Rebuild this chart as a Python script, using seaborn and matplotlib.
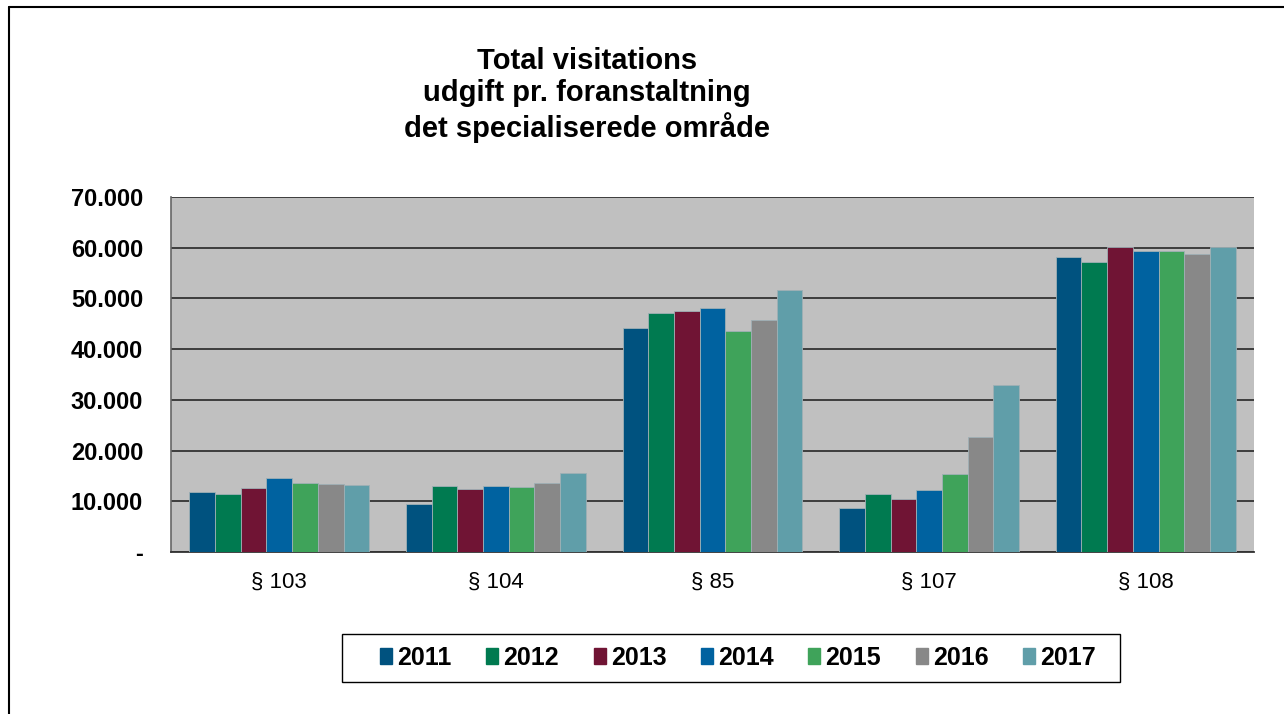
import matplotlib.pyplot as plt
import matplotlib.ticker as mticker
from matplotlib.lines import Line2D
import pandas as pd
import seaborn as sns

# data
categories = ['§ 103', '§ 104', '§ 85', '§ 107', '§ 108']
years = ['2011', '2012', '2013', '2014', '2015', '2016', '2017']
values_2011 = [11900, 9500, 44200, 8600, 58200]
values_2012 = [11400, 13000, 47100, 11400, 57100]
values_2013 = [12600, 12500, 47600, 10400, 60200]
values_2014 = [14500, 13100, 48100, 12200, 59400]
values_2015 = [13700, 12800, 43500, 15400, 59400]
values_2016 = [13500, 13700, 45800, 22700, 58700]
values_2017 = [13200, 15600, 51700, 32900, 60100]
colors = ['#00527F', '#007A50', '#701434', '#0062A0', '#3FA35A', '#888888', '#609EA9']

series = [values_2011, values_2012, values_2013, values_2014,
          values_2015, values_2016, values_2017]
rows = []
for year, vals in zip(years, series):
    for cat, v in zip(categories, vals):
        rows.append({'category': cat, 'year': year, 'value': v})
df = pd.DataFrame(rows)

sns.set_style('white')
plt.rcParams['font.family'] = ['Liberation Sans', 'DejaVu Sans']
plt.rcParams['text.color'] = 'black'
plt.rcParams['xtick.labelcolor'] = 'black'
plt.rcParams['ytick.labelcolor'] = 'black'

fig = plt.figure(figsize=(12.84, 7.14), dpi=100)
ax = fig.add_axes([171 / 1284, 1 - 552 / 714, 1083 / 1284, 355 / 714])
ax.set_facecolor('#C0C0C0')

sns.barplot(data=df, x='category', y='value', hue='year', order=categories,
            hue_order=years, palette=colors, saturation=1, width=0.83,
            edgecolor='#9fb0b5', linewidth=0.6, ax=ax, zorder=3)

# y axis
ax.set_ylim(0, 70000)
ax.set_yticks(range(0, 70001, 10000))
ax.yaxis.set_major_formatter(mticker.FuncFormatter(
    lambda v, p: '-' if v == 0 else f'{int(v):,}'.replace(',', '.')))
ax.grid(axis='y', color='#333333', linewidth=1.3, zorder=1)
ax.set_axisbelow(True)
ax.tick_params(axis='y', length=7, width=1, color='#333333', direction='out',
               pad=13, labelsize=17, labelcolor='black')
for lbl in ax.get_yticklabels():
    lbl.set_fontweight('bold')

# x axis: ticks between categories
ax.set_xlim(-0.5, len(categories) - 0.5)
ax.tick_params(axis='x', length=0, labelsize=16, pad=14, labelcolor='black')
ax.set_xticks([i - 0.5 for i in range(len(categories) + 1)], minor=True)
ax.tick_params(axis='x', which='minor', length=8, width=1, color='#333333',
               direction='out')
ax.set_xlabel('')
ax.set_ylabel('')

for side in ['top', 'right']:
    ax.spines[side].set_visible(False)
ax.spines['left'].set_color('#666666')
ax.spines['left'].set_linewidth(1.2)
ax.spines['bottom'].set_color('#333333')
ax.spines['bottom'].set_linewidth(1.3)

fig.text(587 / 1284, 1 - 95 / 714,
         'Total visitations\nudgift pr. foranstaltning\ndet specialiserede område',
         ha='center', va='center', fontsize=21, fontweight='bold',
         linespacing=1.2, color='black')

# legend: entries without frame, box drawn separately
ax.legend_.remove()
handles = [plt.Rectangle((0, 0), 1, 1, color=c) for c in colors]
leg = fig.legend(handles, years, loc='center', ncol=7,
                 bbox_to_anchor=(738 / 1284, 1 - 658 / 714),
                 frameon=False, handlelength=0.48, handleheight=0.6,
                 handletextpad=0.2, columnspacing=1.39, borderpad=0,
                 prop={'weight': 'bold', 'size': 18})
for t in leg.get_texts():
    t.set_color('black')
fig.add_artist(plt.Rectangle((342 / 1284, 1 - 682 / 714), 778 / 1284, 48 / 714,
                             transform=fig.transFigure, fill=False,
                             edgecolor='black', linewidth=1.0))

# outer chart border (left and top edges)
fig.add_artist(Line2D([9 / 1284, 9 / 1284], [0, 1 - 7 / 714], color='black',
                      linewidth=1.5, transform=fig.transFigure))
fig.add_artist(Line2D([9 / 1284, 1], [1 - 7 / 714, 1 - 7 / 714], color='black',
                      linewidth=1.5, transform=fig.transFigure))

fig.savefig('out.png', dpi=100)
